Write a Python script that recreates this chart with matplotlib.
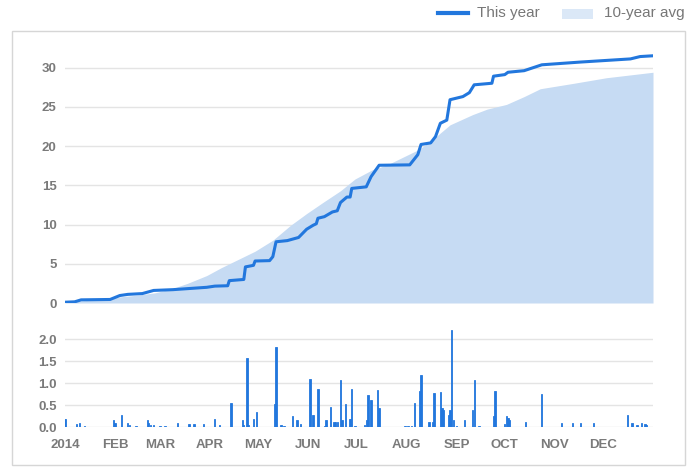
import datetime as dt
import matplotlib
matplotlib.use("Agg")
import matplotlib.pyplot as plt
import matplotlib.dates as mdates
from matplotlib.patches import Rectangle
from matplotlib.lines import Line2D

# --- Data (day of year, inches) ---
rain_days = [0, 7, 9, 12, 15, 30, 31, 35, 39, 40, 44, 51, 52, 53, 55, 59, 62,
             70, 77, 80, 86, 93, 96, 103, 110, 111, 113, 114, 117, 119,
             130, 131, 134, 136, 141, 144, 146, 152, 154, 157, 161, 162, 165,
             167, 168, 169, 171, 172, 174, 177, 178, 180, 186, 187, 188, 190,
             194, 195, 211, 213, 215, 217, 220, 221, 226, 228, 229, 233, 234,
             235, 238, 239, 240, 241, 243, 248, 253, 254, 257, 266, 267, 273,
             274, 275, 276, 286, 296, 308, 315, 320, 328, 349, 352, 355, 358,
             360, 361]
rain_vals = [0.18, 0.07, 0.09, 0.02, 0.01, 0.15, 0.08, 0.28, 0.10, 0.05, 0.02,
             0.15, 0.08, 0.05, 0.04, 0.02, 0.02, 0.08, 0.07, 0.06, 0.07, 0.19,
             0.04, 0.55, 0.16, 0.05, 1.58, 0.05, 0.19, 0.34, 0.52, 1.83, 0.05,
             0.03, 0.25, 0.15, 0.06, 1.10, 0.27, 0.86, 0.03, 0.15, 0.46, 0.12,
             0.12, 0.12, 1.06, 0.15, 0.52, 0.19, 0.86, 0.03, 0.05, 0.15, 0.72,
             0.62, 0.84, 0.44, 0.02, 0.02, 0.02, 0.55, 0.82, 1.18, 0.11, 0.12,
             0.77, 0.79, 0.43, 0.38, 0.27, 0.38, 2.22, 0.15, 0.03, 0.17, 0.38,
             1.08, 0.02, 0.24, 0.83, 0.07, 0.25, 0.20, 0.15, 0.12, 0.75, 0.10,
             0.10, 0.10, 0.08, 0.27, 0.08, 0.05, 0.10, 0.07, 0.05]

ytd_days = [0, 6, 10, 28, 34, 39, 48, 55, 67, 88, 93, 101, 102, 111, 112, 117,
            118, 127, 129, 131, 138, 145, 150, 154, 156, 157, 161, 166, 169,
            171, 175, 177, 178, 187, 190, 195, 214, 219, 221, 227, 230, 233,
            237, 239, 247, 251, 254, 265, 266, 273, 275, 285, 296, 320, 351,
            357, 365]
ytd_vals = [0.1, 0.15, 0.4, 0.45, 0.95, 1.1, 1.2, 1.6, 1.7, 2.0, 2.15, 2.2,
            2.85, 3.0, 4.6, 4.8, 5.35, 5.4, 5.9, 7.8, 7.95, 8.35, 9.4, 9.9,
            10.1, 10.8, 11.0, 11.6, 11.75, 12.8, 13.5, 13.5, 14.6, 14.8, 16.1,
            17.55, 17.6, 18.9, 20.2, 20.4, 21.2, 22.9, 23.3, 25.9, 26.3, 26.8,
            27.8, 28.0, 28.9, 29.1, 29.4, 29.6, 30.35, 30.7, 31.1, 31.4, 31.5]

avg_days = [0, 15, 30, 45, 56, 66, 76, 88, 97, 107, 118, 129, 140, 150, 160,
            171, 180, 191, 200, 212, 220, 228, 239, 253, 262, 274, 285, 295,
            316, 336, 365]
avg_vals = [0.1, 0.35, 0.7, 1.0, 1.3, 1.8, 2.5, 3.5, 4.5, 5.5, 6.6, 8.0, 9.9,
            11.4, 12.8, 14.3, 15.8, 17.0, 17.6, 18.8, 19.6, 20.8, 22.7, 24.0,
            24.7, 25.3, 26.3, 27.3, 28.0, 28.7, 29.4]

start = dt.datetime(2014, 1, 1)
to_date = lambda days: [start + dt.timedelta(days=d) for d in days]

LINE = '#2277dd'
AREA = '#c6dbf3'
GRID = '#e4e4e4'
TXT = '#7a7a7a'
plt.rcParams['font.family'] = ['Liberation Sans', 'DejaVu Sans']

W, H = 692, 467
fig = plt.figure(figsize=(W / 100, H / 100), dpi=100)

def px_axes(x0, y0, x1, y1):
    return fig.add_axes([x0 / W, 1 - y1 / H, (x1 - x0) / W, (y1 - y0) / H])

# outer frame
fig.patches.append(Rectangle((12 / W, 1 - 465 / H), 673 / W, 434 / H,
                             transform=fig.transFigure, fill=False,
                             edgecolor='#d6d6d6', lw=1))

xmin, xmax = start, dt.datetime(2015, 1, 1)

# --- Cumulative panel ---
ax1 = px_axes(65, 44, 653, 303)
ax1.fill_between(to_date(avg_days), 0, avg_vals, color=AREA, lw=0, zorder=1)
ax1.plot(to_date(ytd_days), ytd_vals, color=LINE, lw=2.2, zorder=3,
         solid_joinstyle='round')
ax1.set_xlim(xmin, xmax)
ax1.set_ylim(0, 33)
ax1.set_yticks([0, 5, 10, 15, 20, 25, 30])
ax1.grid(axis='y', color=GRID, lw=1, zorder=0)
ax1.set_axisbelow(True)
ax1.set_xticks([])
for s in ax1.spines.values():
    s.set_visible(False)
ax1.tick_params(axis='y', length=0, pad=6, labelsize=9.5, labelcolor=TXT)
for t in ax1.get_yticklabels():
    t.set_fontweight('bold')

# --- Daily rain panel ---
ax2 = px_axes(65, 326, 653, 427)
ax2.bar(to_date(rain_days), rain_vals, width=0.8, color=LINE, align='center',
        edgecolor=LINE, lw=0.6, zorder=3)
ax2.set_xlim(xmin, xmax)
ax2.set_ylim(0, 2.3)
ax2.set_yticks([0, 0.5, 1.0, 1.5, 2.0])
ax2.yaxis.set_major_formatter(matplotlib.ticker.FormatStrFormatter('%.1f'))
ax2.grid(axis='y', color=GRID, lw=1, zorder=0)
ax2.set_axisbelow(True)
for s in ax2.spines.values():
    s.set_visible(False)
months = [dt.datetime(2014, m, 1) for m in range(1, 13)]
ax2.set_xticks(months)
ax2.set_xticklabels(['2014'] + [m.strftime('%b').upper() for m in months[1:]])
ax2.tick_params(length=0, labelsize=9.5, labelcolor=TXT)
ax2.tick_params(axis='y', pad=6)
ax2.tick_params(axis='x', pad=9)
for t in ax2.get_yticklabels() + ax2.get_xticklabels():
    t.set_fontweight('bold')

# --- Legend ---
fig.lines.append(Line2D([438 / W, 468 / W], [1 - 13 / H, 1 - 13 / H],
                        transform=fig.transFigure, color=LINE, lw=3))
fig.text(477 / W, 1 - 13 / H, 'This year', va='center', ha='left',
         fontsize=11, color='#777777')
fig.patches.append(Rectangle((562 / W, 1 - 19 / H), 31 / W, 10 / H,
                             transform=fig.transFigure, color='#dbe8f7', lw=0))
fig.text(604 / W, 1 - 13 / H, '10-year avg', va='center', ha='left',
         fontsize=11, color='#777777')

fig.savefig('out.png', dpi=100)
